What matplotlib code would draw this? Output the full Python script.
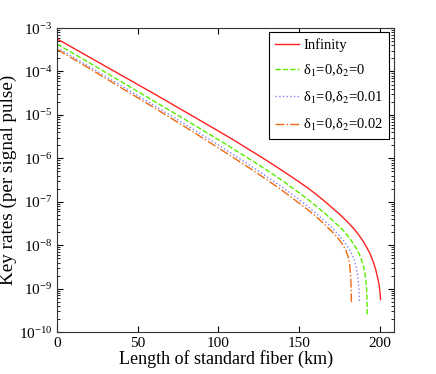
import numpy as np
import matplotlib
matplotlib.use('Agg')
import matplotlib.pyplot as plt

plt.rcParams['font.family'] = ['Liberation Serif', 'DejaVu Serif']
plt.rcParams['mathtext.fontset'] = 'stix'

# Key rate curves (km, log10 of rate)
km_inf = [0, 20, 40, 60, 80, 100, 110, 120, 130, 140, 150, 155, 160, 165, 170, 175, 180,
          184, 187, 190, 192, 194, 196, 197.5, 198.7, 199.6, 200.2, 200.6]
log_inf = [-3.25, -3.67, -4.09, -4.51, -4.94, -5.37, -5.59, -5.82, -6.05, -6.29, -6.54,
           -6.67, -6.81, -6.96, -7.12, -7.28, -7.46, -7.62, -7.76, -7.92, -8.05, -8.19,
           -8.38, -8.55, -8.74, -8.90, -9.08, -9.25]

km_d0 = [0, 20, 40, 60, 80, 100, 110, 120, 130, 140, 150, 155, 160, 165, 170, 175, 178,
         181, 184, 186, 188, 189.5, 190.7, 191.5, 192, 192.2, 192.3]
log_d0 = [-3.37, -3.80, -4.24, -4.68, -5.12, -5.57, -5.80, -6.03, -6.27, -6.52, -6.79,
          -6.93, -7.08, -7.23, -7.40, -7.57, -7.68, -7.82, -7.98, -8.10, -8.26, -8.42,
          -8.60, -8.82, -9.05, -9.30, -9.62]

km_d1 = [0, 20, 40, 60, 80, 100, 110, 120, 130, 140, 150, 155, 160, 165, 170, 174, 177,
         180, 182, 184, 185.3, 186.2, 186.8, 187.2, 187.5]
log_d1 = [-3.45, -3.89, -4.33, -4.78, -5.23, -5.69, -5.93, -6.17, -6.42, -6.67, -6.95,
          -7.09, -7.25, -7.41, -7.58, -7.74, -7.87, -8.02, -8.15, -8.31, -8.47, -8.65,
          -8.85, -9.05, -9.33]

km_d2 = [0, 20, 40, 60, 80, 100, 110, 120, 130, 140, 150, 155, 160, 165, 170, 174, 177,
         179, 180.5, 181.5, 182, 182.3, 182.5]
log_d2 = [-3.49, -3.93, -4.38, -4.83, -5.29, -5.76, -6.00, -6.24, -6.49, -6.75, -7.03,
          -7.17, -7.32, -7.49, -7.67, -7.83, -7.98, -8.11, -8.27, -8.47, -8.70, -8.95,
          -9.31]

labels = ['Infinity', 'δ$_1$=0,δ$_2$=0', 'δ$_1$=0,δ$_2$=0.01', 'δ$_1$=0,δ$_2$=0.02']
xticks = [0, 50, 100, 150, 200]

fig = plt.figure(figsize=(4.36, 3.74), dpi=100)
ax = fig.add_axes([0.131, 0.112, 0.773, 0.813])

ax.plot(km_inf, 10 ** np.array(log_inf), '-', color='#ff2020', lw=1.0, label=labels[0])
ax.plot(km_d0, 10 ** np.array(log_d0), '--', color='#55ee00', lw=1.0, label=labels[1])
ax.plot(km_d1, 10 ** np.array(log_d1), ':', color='#8080ff', lw=1.0, label=labels[2])
ax.plot(km_d2, 10 ** np.array(log_d2), '-.', color='#ee6a10', lw=1.0, label=labels[3])

ax.set_yscale('log')
ax.set_xlim(0, 209)
ax.set_ylim(1e-10, 1e-3)
ax.set_xticks(xticks)
ax.set_yticks([10.0 ** k for k in range(-10, -2)])
ax.tick_params(which='both', direction='in', top=True, right=True, labelsize=11)
ax.tick_params(which='major', length=4)
ax.tick_params(which='minor', length=2)
for s in ax.spines.values():
    s.set_color('#333333')

ax.set_xlabel('Length of standard fiber (km)', fontsize=13, labelpad=0)
ax.set_ylabel('Key rates (per signal pulse)', fontsize=13.8, labelpad=1)

leg = ax.legend(loc='upper right', fontsize=10.5, fancybox=False, edgecolor='black',
                framealpha=1, borderpad=0.4, labelspacing=0.75, handlelength=1.65,
                handletextpad=0.3, borderaxespad=0, bbox_to_anchor=(0.985, 0.987))
leg.get_frame().set_linewidth(0.8)

fig.savefig('out.png', dpi=100)
